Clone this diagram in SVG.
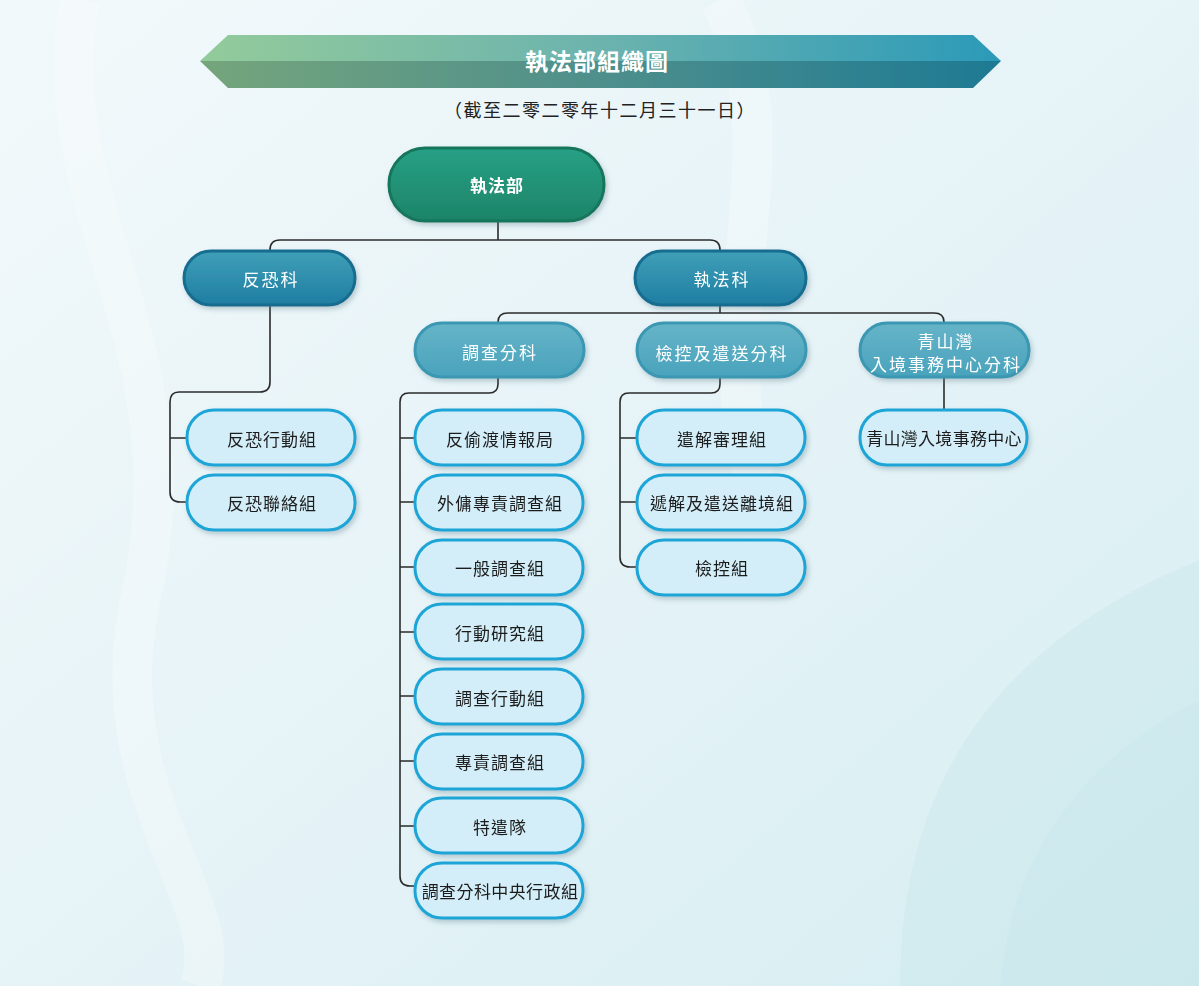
<svg xmlns="http://www.w3.org/2000/svg" width="1199" height="986" viewBox="0 0 1199 986">
<defs>
<linearGradient id="bg" x1="0" y1="0" x2="1" y2="1">
<stop offset="0" stop-color="#f2f9fb"/>
<stop offset="0.5" stop-color="#e6f3f7"/>
<stop offset="1" stop-color="#d6eef2"/>
</linearGradient>
<linearGradient id="banTop" x1="0" y1="0" x2="1" y2="0">
<stop offset="0" stop-color="#93cb9a"/>
<stop offset="0.5" stop-color="#6cb3ae"/>
<stop offset="1" stop-color="#2b9ab8"/>
</linearGradient>
<linearGradient id="banBot" x1="0" y1="0" x2="1" y2="0">
<stop offset="0" stop-color="#75a57b"/>
<stop offset="0.5" stop-color="#4e8f8c"/>
<stop offset="1" stop-color="#1d7a93"/>
</linearGradient>
<linearGradient id="gTop" x1="0" y1="0" x2="0" y2="1">
<stop offset="0" stop-color="#27a085"/>
<stop offset="1" stop-color="#1d8468"/>
</linearGradient>
<linearGradient id="gL2" x1="0" y1="0" x2="0" y2="1">
<stop offset="0" stop-color="#3f9fb8"/>
<stop offset="1" stop-color="#1f7ea2"/>
</linearGradient>
<linearGradient id="gL3" x1="0" y1="0" x2="0" y2="1">
<stop offset="0" stop-color="#66b4c8"/>
<stop offset="1" stop-color="#49a3bc"/>
</linearGradient>
<filter id="sh" x="-20%" y="-20%" width="140%" height="160%">
<feDropShadow dx="2" dy="3" stdDeviation="2.5" flood-color="#5a7d88" flood-opacity="0.35"/>
</filter>
<style>
text{font-family:"Noto Sans CJK TC","Noto Sans CJK SC",sans-serif;text-anchor:middle;dominant-baseline:central}
.l1{fill:url(#gTop);stroke:#16765c;stroke-width:3}
.l2{fill:url(#gL2);stroke:#186d90;stroke-width:3}
.l3{fill:url(#gL3);stroke:#3a97b2;stroke-width:3}
.l4{fill:#d3eef8;stroke:#1ba5d6;stroke-width:3}
.tw{fill:#ffffff;font-size:17px;letter-spacing:2px}
.tb{fill:#1e1e1e;font-size:17px;letter-spacing:1px}
.con path{fill:none;stroke:#2b2b2b;stroke-width:1.6}
</style>
</defs>
<rect width="1199" height="986" fill="url(#bg)"/>
<g opacity="0.25" fill="none" stroke="#ffffff" stroke-width="40">
<path d="M80 0 C40 200 200 350 140 600 C100 800 230 900 200 986"/>
<path d="M720 0 C800 150 700 300 760 500"/>
</g>
<g opacity="0.35" fill="#c6e6ea">
<path d="M900 986 C900 800 980 650 1199 560 L1199 986 Z"/>
<path d="M1000 986 C1010 860 1080 760 1199 700 L1199 986 Z" fill="#b9e0e4"/>
</g>

<g id="banner">
<polygon points="200,61 228,35 973,35 1001,61" fill="url(#banTop)"/>
<polygon points="200,61 1001,61 973,88 228,88" fill="url(#banBot)"/>
<text x="597" y="60" fill="#ffffff" font-size="23" font-weight="bold" letter-spacing="1">執法部組織圖</text>
</g>
<text id="subtitle" x="600" y="109" fill="#222" font-size="18" letter-spacing="1.5">（截至二零二零年十二月三十一日）</text>

<g class="con" id="connectors">
<path d="M498 221 V240 M498 240 H280 Q270 240 270 250 M498 240 H710 Q720 240 720 250"/>
<path d="M270 305 V382 Q270 392 260 392 H179 Q170 392 170 402 V492 Q170 502 180 502 H186 M170 438 H186"/>
<path d="M720 305 V313 M720 313 H508 Q498 313 498 322 M720 313 H934 Q944 313 944 322"/>
<path d="M498 378 V384 Q498 393 489 393 H409 Q400 393 400 402 V876 Q400 886 410 886 H414 M400 438 H414 M400 502 H414 M400 567 H414 M400 632 H414 M400 696 H414 M400 761 H414 M400 826 H414"/>
<path d="M720 378 V384 Q720 393 711 393 H629 Q620 393 620 402 V557 Q620 567 630 567 H636 M620 438 H636 M620 502 H636"/>
<path d="M944 378 V409"/>
</g>

<g id="n-root" filter="url(#sh)"><rect class="l1" x="389" y="148" width="215" height="73" rx="36"/><text class="tw" x="497" y="184" font-weight="bold" style="letter-spacing:1px">執法部</text></g>

<g id="n-fk" filter="url(#sh)"><rect class="l2" x="184" y="251" width="171" height="54" rx="27"/><text class="tw" x="271" y="278">反恐科</text></g>
<g id="n-zf" filter="url(#sh)"><rect class="l2" x="635" y="251" width="171" height="54" rx="27"/><text class="tw" x="722" y="278">執法科</text></g>

<g id="n-dc" filter="url(#sh)"><rect class="l3" x="415" y="323" width="169" height="54" rx="27"/><text class="tw" x="500" y="351">調查分科</text></g>
<g id="n-jk" filter="url(#sh)"><rect class="l3" x="637" y="323" width="169" height="54" rx="27"/><text class="tw" x="722" y="352">檢控及遣送分科</text></g>
<g id="n-qs" filter="url(#sh)"><rect class="l3" x="860" y="323" width="169" height="54" rx="27"/><text class="tw" x="946" y="340">青山灣</text><text class="tw" x="946" y="363">入境事務中心分科</text></g>

<g id="n-fk1" filter="url(#sh)"><rect class="l4" x="187" y="410" width="168" height="55" rx="27"/><text class="tb" x="272" y="438">反恐行動組</text></g>
<g id="n-fk2" filter="url(#sh)"><rect class="l4" x="187" y="475" width="168" height="55" rx="27"/><text class="tb" x="272" y="502">反恐聯絡組</text></g>

<g id="n-d1" filter="url(#sh)"><rect class="l4" x="415" y="410" width="168" height="55" rx="27"/><text class="tb" x="500" y="438">反偷渡情報局</text></g>
<g id="n-d2" filter="url(#sh)"><rect class="l4" x="415" y="475" width="168" height="55" rx="27"/><text class="tb" x="500" y="502">外傭專責調查組</text></g>
<g id="n-d3" filter="url(#sh)"><rect class="l4" x="415" y="540" width="168" height="55" rx="27"/><text class="tb" x="500" y="567">一般調查組</text></g>
<g id="n-d4" filter="url(#sh)"><rect class="l4" x="415" y="604" width="168" height="55" rx="27"/><text class="tb" x="500" y="632">行動研究組</text></g>
<g id="n-d5" filter="url(#sh)"><rect class="l4" x="415" y="669" width="168" height="55" rx="27"/><text class="tb" x="500" y="697">調查行動組</text></g>
<g id="n-d6" filter="url(#sh)"><rect class="l4" x="415" y="734" width="168" height="55" rx="27"/><text class="tb" x="500" y="761">專責調查組</text></g>
<g id="n-d7" filter="url(#sh)"><rect class="l4" x="415" y="798" width="168" height="55" rx="27"/><text class="tb" x="500" y="826">特遣隊</text></g>
<g id="n-d8" filter="url(#sh)"><rect class="l4" x="415" y="863" width="168" height="55" rx="27"/><text class="tb" x="500" y="890" style="letter-spacing:0.4px">調查分科中央行政組</text></g>

<g id="n-j1" filter="url(#sh)"><rect class="l4" x="637" y="410" width="168" height="55" rx="27"/><text class="tb" x="722" y="438">遣解審理組</text></g>
<g id="n-j2" filter="url(#sh)"><rect class="l4" x="637" y="475" width="168" height="55" rx="27"/><text class="tb" x="722" y="502">遞解及遣送離境組</text></g>
<g id="n-j3" filter="url(#sh)"><rect class="l4" x="637" y="540" width="168" height="55" rx="27"/><text class="tb" x="722" y="567">檢控組</text></g>

<g id="n-q1" filter="url(#sh)"><rect class="l4" x="860" y="410" width="167" height="55" rx="27"/><text class="tb" x="944" y="437" style="letter-spacing:0.3px">青山灣入境事務中心</text></g>
</svg>
